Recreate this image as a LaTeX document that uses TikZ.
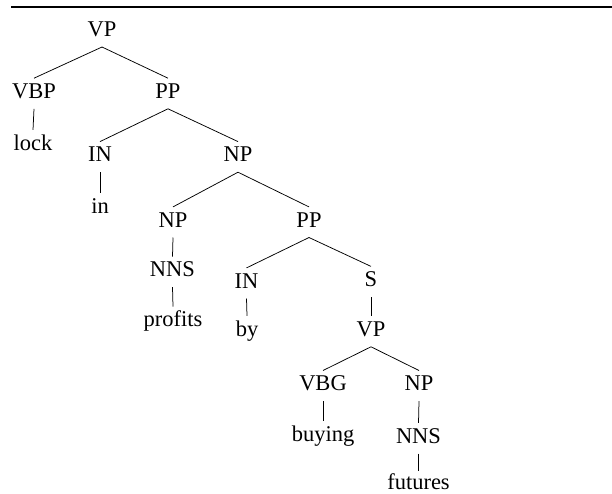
\documentclass[tikz,border=0pt]{standalone}
\usepackage{fontspec}
\setmainfont{Liberation Serif}
\begin{document}
\begin{tikzpicture}[x=1pt,y=-1pt,
  lab/.style={anchor=base,font=\fontsize{22.5}{26}\selectfont,text height=14.6pt,text depth=5pt,inner xsep=0pt,inner ysep=5.3pt},
  lastlab/.style={lab,text height=18.4pt,text depth=0pt,inner ysep=0pt},
  edge/.style={line width=0.75pt}]
\useasboundingbox (0,0) rectangle (612,493);
\coordinate (rl) at (11,7);
\coordinate (rr) at (612,7);
\draw[line width=1.8pt] (rl) -- (rr);
\node[lab] (vp1) at (102,36.5) {VP};
\node[lab] (vbp) at (34,98.3) {VBP};
\node[lab] (pp1) at (168,98.3) {PP};
\node[lab] (lock) at (33,150) {lock};
\node[lab] (in1) at (100,161.7) {IN};
\node[lab] (np1) at (238,161.7) {NP};
\node[lab] (in1w) at (100,213) {in};
\node[lab] (np2) at (173,227) {NP};
\node[lab] (pp2) at (309,227) {PP};
\node[lab] (nns1) at (172.5,276.7) {NNS};
\node[lab] (prof) at (173,326.7) {profits};
\node[lab] (in2) at (246.5,288) {IN};
\node[lab] (by) at (247,336) {by};
\node[lab] (s) at (371,286.5) {S};
\node[lab] (vp2) at (371,336.3) {VP};
\node[lab] (vbg) at (323,390.6) {VBG};
\node[lab] (np3) at (419,390.6) {NP};
\node[lab] (buy) at (323,441.5) {buying};
\node[lab] (nns2) at (418.5,443) {NNS};
\node[lastlab] (fut) at (418.5,489.5) {futures};
\draw[edge] (vp1.south) -- (vbp.north);
\draw[edge] (vp1.south) -- (pp1.north);
\draw[edge] (vbp.south) -- (lock.north);
\draw[edge] (pp1.south) -- (in1.north);
\draw[edge] (pp1.south) -- (np1.north);
\draw[edge] (in1.south) -- (in1w.north);
\draw[edge] (np1.south) -- (np2.north);
\draw[edge] (np1.south) -- (pp2.north);
\draw[edge] (np2.south) -- (nns1.north);
\draw[edge] (nns1.south) -- (prof.north);
\draw[edge] (pp2.south) -- (in2.north);
\draw[edge] (pp2.south) -- (s.north);
\draw[edge] (in2.south) -- (by.north);
\draw[edge] (s.south) -- (vp2.north);
\draw[edge] (vp2.south) -- (vbg.north);
\draw[edge] (vp2.south) -- (np3.north);
\draw[edge] (vbg.south) -- (buy.north);
\draw[edge] (np3.south) -- (nns2.north);
\draw[edge] (nns2.south) -- (fut.north);
\end{tikzpicture}
\end{document}
